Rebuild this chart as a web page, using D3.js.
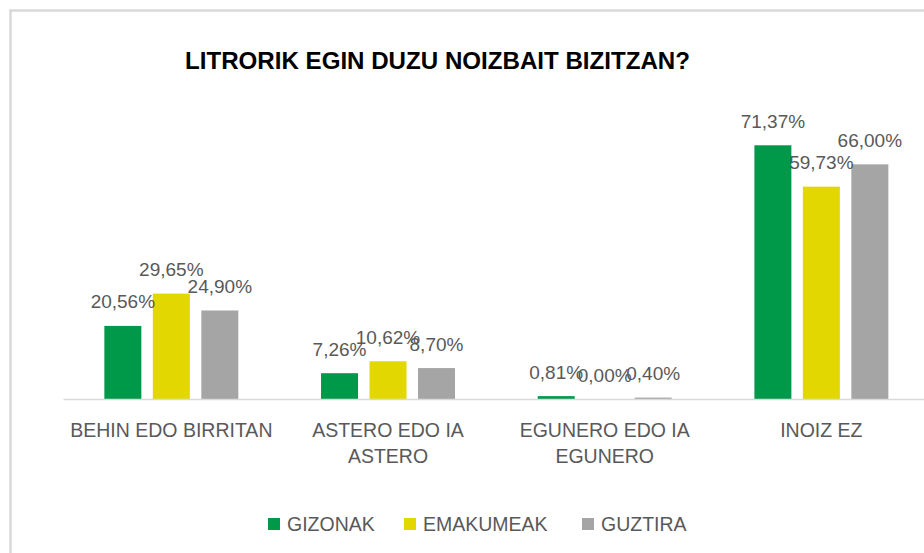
<!DOCTYPE html>
<html>
<head>
<meta charset="utf-8">
<script src="https://cdn.jsdelivr.net/npm/d3@7"></script>
<style>
  html, body { margin: 0; padding: 0; background: #fff; overflow: hidden; }
  svg { display: block; }
  text { font-family: "Liberation Sans", Arial, sans-serif; }
</style>
</head>
<body>
<svg id="chart" width="924" height="553"></svg>
<script>
// ---- data ----
const title = "LITRORIK EGIN DUZU NOIZBAIT BIZITZAN?";
const categories = ["BEHIN EDO BIRRITAN", "ASTERO EDO IA ASTERO", "EGUNERO EDO IA EGUNERO", "INOIZ EZ"];
const seriesNames = ["GIZONAK", "EMAKUMEAK", "GUZTIRA"];
const gizonak   = [20.56, 7.26, 0.81, 71.37];
const emakumeak = [29.65, 10.62, 0.00, 59.73];
const guztira   = [24.90, 8.70, 0.40, 66.00];
const seriesColors = ["#00994A", "#E2D800", "#A5A5A5"];

const seriesValues = [gizonak, emakumeak, guztira];
const rows = categories.map((c, i) => ({
  cat: c,
  vals: seriesNames.map((s, j) => ({ s, v: seriesValues[j][i] }))
}));

const svg = d3.select("#chart");
const textColor = "#595959";

// chart border
svg.append("rect")
  .attr("x", 10.5).attr("y", 10.5)
  .attr("width", 940).attr("height", 570)
  .attr("fill", "none").attr("stroke", "#d9d9d9").attr("stroke-width", 2.5);

// title
svg.append("text")
  .attr("x", 185).attr("y", 69)
  .attr("textLength", 505).attr("lengthAdjust", "spacingAndGlyphs")
  .style("font-family", "'Liberation Sans Narrow', 'Liberation Sans', Arial, sans-serif")
  .style("font-weight", "bold").style("font-size", "23.5px")
  .attr("fill", "#000")
  .text(title);

// scales
const x0 = d3.scaleBand().domain(categories).range([63, 929.7]).paddingInner(0).paddingOuter(0);
const x1 = d3.scaleBand().domain(seriesNames).range([0, x0.bandwidth()]).paddingInner(0.237).paddingOuter(0.853);
const y = d3.scaleLinear().domain([0, 80]).range([399, 114.6]);
const color = d3.scaleOrdinal().domain(seriesNames).range(seriesColors);

// bars
const groups = svg.append("g").selectAll("g").data(rows).join("g")
  .attr("transform", d => `translate(${x0(d.cat)},0)`);

groups.selectAll("rect").data(d => d.vals).join("rect")
  .attr("x", d => x1(d.s))
  .attr("y", d => y(d.v))
  .attr("width", x1.bandwidth())
  .attr("height", d => y(0) - y(d.v))
  .attr("fill", d => color(d.s));

// data labels
const fmt = v => v.toFixed(2).replace(".", ",") + "%";
groups.selectAll("text").data(d => d.vals).join("text")
  .attr("x", d => x1(d.s) + x1.bandwidth() / 2)
  .attr("y", d => y(d.v) - 17.5)
  .attr("text-anchor", "middle")
  .style("font-size", "19px")
  .attr("fill", textColor)
  .text(d => fmt(d.v));

// x axis
const xAxis = d3.axisBottom(x0).tickSize(0).tickPadding(0);
const axisG = svg.append("g").attr("transform", `translate(0,${y(0)})`).call(xAxis);
axisG.select(".domain").attr("stroke", "#d9d9d9").attr("stroke-width", 1.5);
axisG.selectAll(".tick text").remove();

// category labels with wrapping
const maxW = 212;
axisG.selectAll(".tick").each(function(d) {
  const t = d3.select(this).append("text")
    .attr("text-anchor", "middle")
    .attr("fill", textColor)
    .style("font-size", "19.5px");
  const words = d.split(" ");
  let lines = [], line = [];
  const tmp = t.append("tspan");
  words.forEach(w => {
    line.push(w);
    tmp.text(line.join(" "));
    if (tmp.node().getComputedTextLength() > maxW && line.length > 1) {
      line.pop();
      lines.push(line.join(" "));
      line = [w];
    }
  });
  lines.push(line.join(" "));
  tmp.remove();
  lines.forEach((l, i) => {
    t.append("tspan").attr("x", 0).attr("y", 38 + i * 25.5).text(l);
  });
});

// legend
const legendX = [268, 404, 582];
const leg = svg.append("g").selectAll("g").data(seriesNames).join("g")
  .attr("transform", (d, i) => `translate(${legendX[i]},518)`);
leg.append("rect").attr("width", 12).attr("height", 12).attr("fill", d => color(d));
leg.append("text").attr("x", 19).attr("y", 13)
  .style("font-size", "19.5px").attr("fill", textColor).text(d => d);
</script>
</body>
</html>
